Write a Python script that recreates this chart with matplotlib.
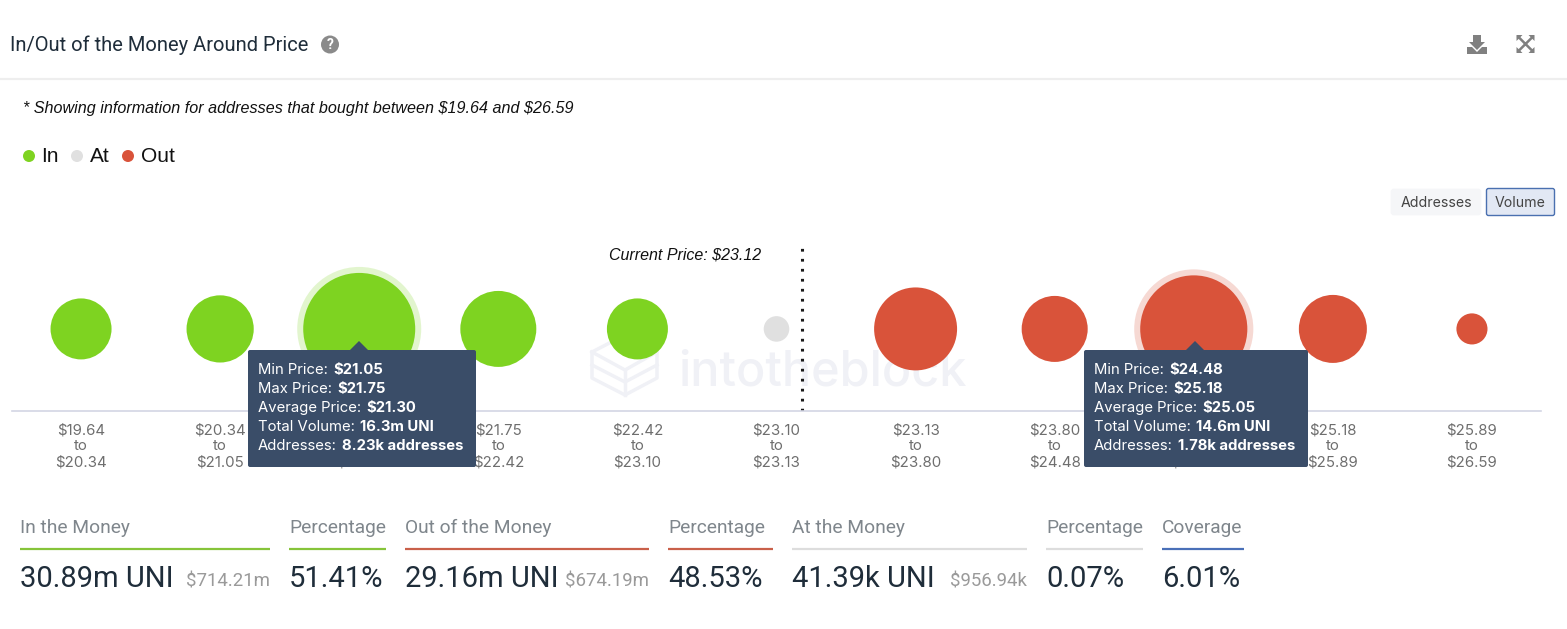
import numpy as np
import matplotlib
matplotlib.use('Agg')
import matplotlib.pyplot as plt
from matplotlib.patches import Circle, FancyBboxPatch, Polygon

W, H = 1567, 629

price_edges = [19.64, 20.34, 21.05, 21.75, 22.42, 23.10, 23.13, 23.80, 24.48, 25.18, 25.89, 26.59]
volumes = [3.15, 4.2, 16.3, 5.95, 3.15, 0.041, 7.56, 3.99, 14.6, 4.35, 0.2]
states = ['in', 'in', 'in', 'in', 'in', 'at', 'out', 'out', 'out', 'out', 'out']
current_price_pos = 5.18
hovered = [2, 8]

tooltip_labels = ['Min Price:', 'Max Price:', 'Average Price:', 'Total Volume:', 'Addresses:']
tooltip_left = ['\\$21.05', '\\$21.75', '\\$21.30', '16.3m UNI', '8.23k addresses']
tooltip_right = ['\\$24.48', '\\$25.18', '\\$25.05', '14.6m UNI', '1.78k addresses']

footer_heads = ['In the Money', 'Percentage', 'Out of the Money', 'Percentage', 'At the Money', 'Percentage', 'Coverage']
footer_values = ['30.89m UNI', '51.41%', '29.16m UNI', '48.53%', '41.39k UNI', '0.07%', '6.01%']
footer_subs = ['\\$714.21m', '', '\\$674.19m', '', '\\$956.94k', '', '']

colors = {'in': '#7ed321', 'at': '#e0e0e0', 'out': '#d9533a'}
footer_colors = ['#86c43a', '#86c43a', '#c9604a', '#c9604a', '#dddddd', '#dddddd', '#4a70b8']
footer_x0 = [20, 289, 405, 668, 792, 1046, 1162]
footer_x1 = [270, 386, 649, 773, 1027, 1143, 1244]
DARK = '#1f2d3a'

fig = plt.figure(figsize=(W / 100, H / 100), dpi=100, facecolor='white')


def px_axes(z):
    a = fig.add_axes([0, 0, 1, 1], zorder=z)
    a.set_xlim(0, W)
    a.set_ylim(H, 0)
    a.axis('off')
    a.patch.set_alpha(0)
    return a


back = px_axes(0)
top = px_axes(2)

# watermark
back.text(678, 372, 'intotheblock', fontsize=35, family='Inter', color='#f0f1f6', va='center', weight='medium')
logo = [[(592, 352), (625, 335), (657, 352), (625, 370), (592, 352)],
        [(592, 352), (592, 378), (625, 395), (657, 378), (657, 352)],
        [(625, 370), (625, 395)], [(592, 365), (625, 382), (657, 365)]]
for seg in logo:
    seg = np.array(seg)
    back.plot(seg[:, 0], seg[:, 1], color='#f0f1f6', lw=2.5)

# bubble chart
ax = fig.add_axes([11.5 / W, 1 - 411 / H, 1530 / W, 171 / H], zorder=1)
ax.patch.set_alpha(0)
ax.set_xlim(-0.5, len(volumes) - 0.5)
ax.set_ylim(0, 1)
x = np.arange(len(volumes))
level = np.full(len(volumes), 0.48)
radii = 10.5 + 45.5 * np.sqrt(np.array(volumes) / max(volumes))
sizes = (2 * radii * 0.72) ** 2
bubble_colors = [colors[s] for s in states]
halo = (2 * (radii[hovered] + 6) * 0.72) ** 2
ax.scatter(x[hovered], level[hovered], s=halo, c=[bubble_colors[i] for i in hovered], alpha=0.22, linewidths=0)
ax.scatter(x, level, s=sizes, c=bubble_colors, linewidths=0, zorder=3)
ax.axvline(current_price_pos, color='#1a1a1a', lw=2.2, ls=(0, (0.9, 2.37)), ymin=0, ymax=0.96)
ax.text(current_price_pos - 0.29, 0.91, 'Current Price: \\$23.12', ha='right', va='center', style='italic',
        family='Liberation Sans', fontsize=11.5, color='#111111')
ticklabels = [f'\\${a:.2f}\nto\n\\${b:.2f}' for a, b in zip(price_edges[:-1], price_edges[1:])]
ax.set_xticks(x, ticklabels, fontsize=10.8, family='Inter', color='#6e6e6e', linespacing=1.16)
ax.tick_params(axis='x', length=0, pad=9)
ax.set_yticks([])
for s in ['top', 'left', 'right']:
    ax.spines[s].set_visible(False)
ax.spines['bottom'].set_color('#d3d6e4')
ax.spines['bottom'].set_linewidth(1.2)

# header
top.text(10, 45, 'In/Out of the Money Around Price', fontsize=14.5, family='Roboto', color=DARK, va='center')
top.add_patch(Circle((330, 44.5), 9, color='#8a8a8a', lw=0))
top.text(330, 45, '?', fontsize=10, weight='bold', family='Roboto', color='white', ha='center', va='center')
top.plot([0, W], [79, 79], color='#eeeeee', lw=1.6)

# download icon
g = '#808080'
top.add_patch(Polygon([(1473, 35), (1481, 35), (1481, 42), (1485, 42), (1477, 50), (1469, 42), (1473, 42)], color=g, lw=0))
top.add_patch(Polygon([(1467, 47), (1472, 47), (1477, 52), (1482, 47), (1487, 47), (1487, 54), (1467, 54)], color=g, lw=0))
# expand icon
for sx, sy in [(-1, -1), (1, -1), (-1, 1), (1, 1)]:
    cx, cy = 1525.5, 44
    top.plot([cx, cx + sx * 7], [cy, cy + sy * 7], color=g, lw=1.8)
    top.add_patch(Polygon([(cx + sx * 9, cy + sy * 9), (cx + sx * 3, cy + sy * 9), (cx + sx * 9, cy + sy * 3)], color=g, lw=0))

top.text(23, 108, '* Showing information for addresses that bought between \\$19.64 and \\$26.59', fontsize=11.6,
         style='italic', family='Liberation Sans', color='#111111', va='center')

# legend
for cx, tx, key, lab in [(29, 41, 'in', 'In'), (77, 90, 'at', 'At'), (128, 141, 'out', 'Out')]:
    top.add_patch(Circle((cx, 156), 6, color=colors[key], lw=0))
    top.text(tx, 157, lab, fontsize=15, family='Liberation Sans', color='#111111', va='center')

# buttons
top.add_patch(FancyBboxPatch((1392, 190), 88, 24, boxstyle='round,pad=0,rounding_size=2', fc='#f5f6f8', ec='#f5f6f8', lw=2))
top.text(1436.5, 203, 'Addresses', fontsize=10.2, family='Inter', color='#444444', ha='center', va='center')
top.add_patch(FancyBboxPatch((1486.5, 188.5), 68, 27, boxstyle='round,pad=0,rounding_size=2', fc='#e2e8f4', ec='#4a70b0', lw=1))
top.text(1520.5, 203, 'Volume', fontsize=10.2, family='Inter', color='#444444', ha='center', va='center')


def tooltip(x0, x1, arrow, values):
    top.add_patch(FancyBboxPatch((x0, 350), x1 - x0, 117, boxstyle='round,pad=0,rounding_size=2', fc='#3a4d68', ec='none'))
    top.add_patch(Polygon([(arrow - 10, 351), (arrow, 341), (arrow + 10, 351)], fc='#3a4d68', ec='none'))
    r = fig.canvas.get_renderer()
    for i, (lab, val) in enumerate(zip(tooltip_labels, values)):
        y = 370 + i * 19
        t = top.text(x0 + 10, y, lab, fontsize=10.7, family='Inter', color='white', va='center')
        bb = t.get_window_extent(r)
        top.text(bb.x1 + 5, y, val, fontsize=10.7, family='Inter', weight='bold', color='white', va='center')


tooltip(248, 476, 359, tooltip_left)
tooltip(1084, 1308, 1195, tooltip_right)

# footer
for i in range(len(footer_heads)):
    top.text(footer_x0[i], 528, footer_heads[i], fontsize=13.8, family='Roboto', color='#7f868c', va='center')
    top.plot([footer_x0[i], footer_x1[i]], [549, 549], color=footer_colors[i], lw=1.6, solid_capstyle='butt')
    top.text(footer_x0[i], 579, footer_values[i], fontsize=21, family='Roboto', color=DARK, va='center')
    if footer_subs[i]:
        top.text(footer_x1[i], 582, footer_subs[i], fontsize=13.4, family='Roboto', color='#9a9a9a', va='center', ha='right')

fig.savefig('out.png', dpi=100)
